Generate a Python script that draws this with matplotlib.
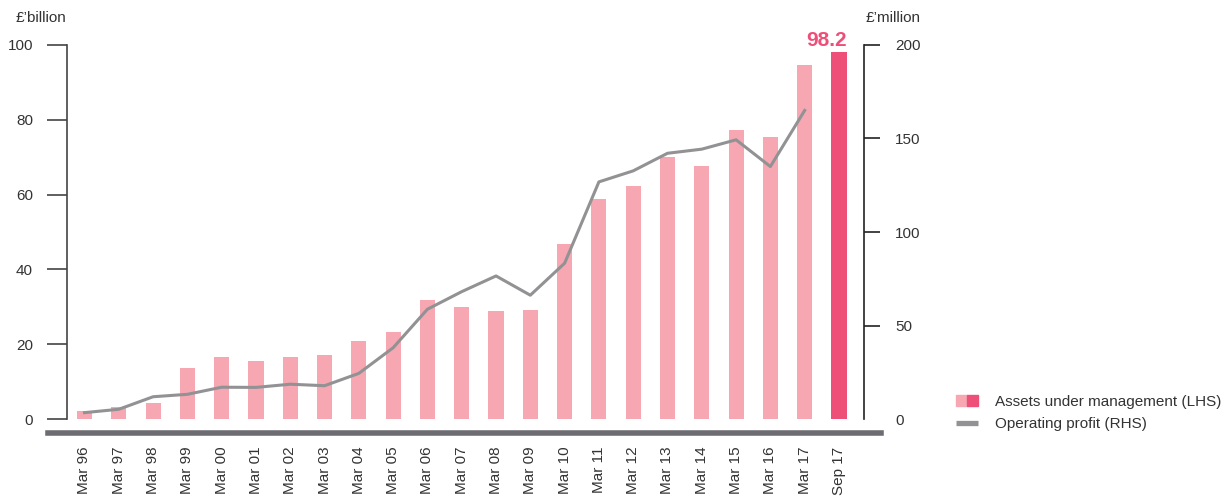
import numpy as np
import matplotlib.pyplot as plt
from matplotlib.patches import Patch
from matplotlib.lines import Line2D
from matplotlib.legend_handler import HandlerTuple

plt.rcParams['font.family'] = ['Liberation Sans', 'DejaVu Sans']
plt.rcParams['text.color'] = '#333333'

periods = ['Mar 96', 'Mar 97', 'Mar 98', 'Mar 99', 'Mar 00', 'Mar 01', 'Mar 02',
           'Mar 03', 'Mar 04', 'Mar 05', 'Mar 06', 'Mar 07', 'Mar 08', 'Mar 09',
           'Mar 10', 'Mar 11', 'Mar 12', 'Mar 13', 'Mar 14', 'Mar 15', 'Mar 16',
           'Mar 17', 'Sep 17']
# assets under management, £bn (LHS)
aum = [2.1, 3.2, 4.3, 13.7, 16.5, 15.5, 16.5, 17.1, 20.9, 23.3, 31.7, 29.9,
       28.8, 29.1, 46.9, 58.9, 62.4, 70.1, 67.7, 77.3, 75.5, 94.7, 98.2]
# operating profit, £m (RHS) - no value for Sep 17
profit = [3.4, 5.2, 11.9, 13.2, 17.0, 16.9, 18.6, 17.8, 24.4, 38.1, 58.7, 68.1,
          76.5, 66.2, 83.3, 126.8, 132.7, 142.1, 144.3, 149.3, 135.0, 165.0]

LIGHT = '#f6a7b2'
DARK = '#ee4f78'
GREY = '#929294'
TXT = '#333333'

fig = plt.figure(figsize=(12.32, 4.98), dpi=100)
ax = fig.add_axes([67/1232, 1 - 419/498, (864 - 67)/1232, 374/498])
x = np.arange(len(periods))
colors = [LIGHT]*(len(periods) - 1) + [DARK]
ax.bar(x, aum, width=0.44, color=colors, zorder=1)
ax.set_xlim(-0.51, 22.73)
ax.set_ylim(0, 100)
ax.set_yticks(np.arange(0, 101, 20))
ax.set_xticks(x)
ax.set_xticklabels(periods, rotation=90, va='top', ha='center')
ax.tick_params(axis='x', length=0, pad=20, labelsize=11, labelcolor=TXT)
ax.tick_params(axis='y', length=14.5, width=1.2, pad=10, labelsize=11,
               labelcolor=TXT, color='#444444')
ax.yaxis.get_major_ticks()[0].tick1line.set_visible(False)
for s in ['top', 'bottom', 'right']:
    ax.spines[s].set_visible(False)
ax.spines['left'].set_color('#444444')
ax.spines['left'].set_linewidth(1.2)

# value label on latest bar (sits right-aligned to the bar edge)
ax.text(x[-1] + 0.24, aum[-1] + 0.4, f'{aum[-1]:.1f}', ha='right', va='bottom',
        fontsize=15, color=DARK, fontweight='bold')

ax2 = ax.twinx()
ax2.plot(x[:len(profit)], profit, color=GREY, lw=2.2, zorder=3)
ax2.set_ylim(0, 200)
ax2.set_yticks(np.arange(0, 201, 50))
ax2.tick_params(axis='y', length=11.5, width=1.2, pad=11, labelsize=11,
                labelcolor=TXT, color='#222222')
ax2.yaxis.get_major_ticks()[0].tick2line.set_visible(False)
for s in ['top', 'bottom', 'left']:
    ax2.spines[s].set_visible(False)
ax2.spines['right'].set_color('#222222')
ax2.spines['right'].set_linewidth(1.2)

fig.text(16/1232, 1 - 18/498, '£’billion', fontsize=11, va='center', ha='left')
fig.text(866/1232, 1 - 18/498, '£’million', fontsize=11, va='center', ha='left')

# thick baseline under the chart
fig.add_artist(Line2D([48/1232, 881/1232], [1 - 433/498]*2, lw=4, color='#6d6c72'))

handles = [(Patch(color=LIGHT), Patch(color=DARK)),
           Line2D([], [], color=GREY, lw=3.8, solid_capstyle='butt')]
fig.legend(handles, ['Assets under management (LHS)', 'Operating profit (RHS)'],
           handler_map={tuple: HandlerTuple(ndivide=None, pad=0)},
           loc='upper left', bbox_to_anchor=(951/1232, 1 - 390/498),
           frameon=False, fontsize=11, handlelength=1.45, handletextpad=1.1,
           labelspacing=0.55, borderaxespad=0, borderpad=0.3)

fig.savefig('out.png', dpi=100)
